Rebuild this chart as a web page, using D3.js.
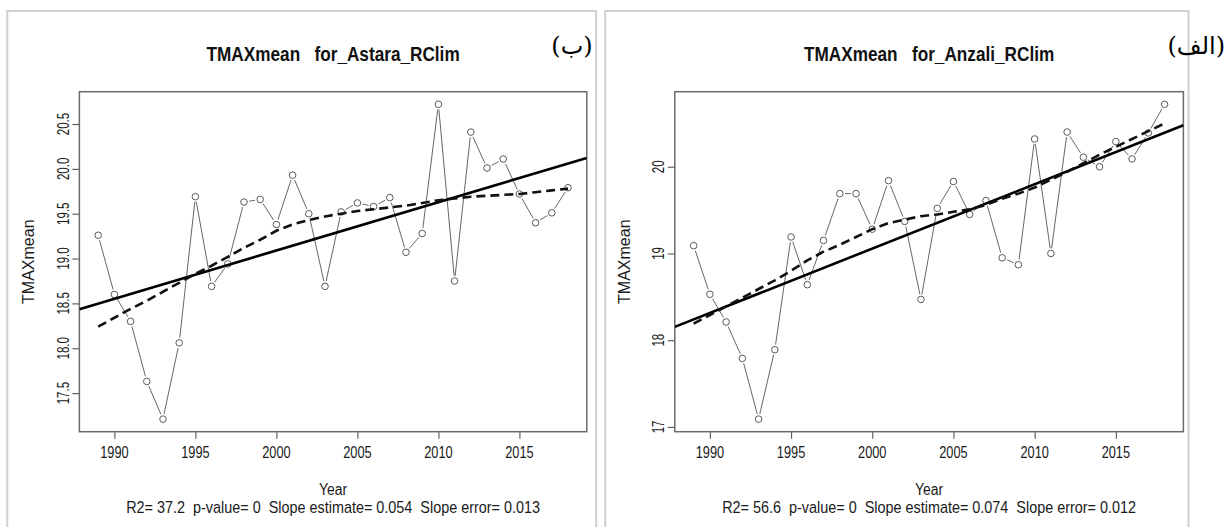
<!DOCTYPE html>
<html><head><meta charset="utf-8">
<script src="https://cdn.jsdelivr.net/npm/d3@7"></script>
<style>body{margin:0;background:#fff} svg{display:block}</style>
</head><body>
<svg id="chart" width="1226" height="527"></svg>
<script>
// ---------- data ----------
const years = [1989,1990,1991,1992,1993,1994,1995,1996,1997,1998,1999,2000,2001,2002,2003,2004,2005,2006,2007,2008,2009,2010,2011,2012,2013,2014,2015,2016,2017,2018];
const astaraTmax = [19.26,18.60,18.30,17.63,17.21,18.06,19.69,18.69,18.94,19.63,19.66,19.38,19.93,19.50,18.69,19.52,19.62,19.58,19.68,19.07,19.28,20.72,18.75,20.41,20.01,20.11,19.72,19.40,19.51,19.79];
const astaraLowess = [18.24,18.34,18.44,18.53,18.63,18.73,18.83,18.92,19.02,19.12,19.21,19.31,19.38,19.43,19.47,19.50,19.53,19.55,19.57,19.59,19.62,19.65,19.67,19.69,19.70,19.71,19.72,19.74,19.76,19.78];
const anzaliTmax = [19.09,18.53,18.21,17.79,17.09,17.89,19.19,18.64,19.15,19.69,19.69,19.28,19.84,19.37,18.47,19.52,19.83,19.45,19.61,18.95,18.87,20.32,19.00,20.40,20.11,20.00,20.29,20.09,20.39,20.72];
const anzaliLowess = [18.19,18.29,18.39,18.49,18.59,18.69,18.80,18.92,19.02,19.10,19.19,19.28,19.35,19.39,19.43,19.45,19.48,19.51,19.56,19.63,19.69,19.76,19.85,19.94,20.04,20.14,20.23,20.32,20.41,20.50];
const xTicks = [1990,1995,2000,2005,2010,2015];
const astaraYTicks = [17.5,18.0,18.5,19.0,19.5,20.0,20.5];
const anzaliYTicks = [17,18,19,20];
const titles = ["TMAXmean   for_Astara_RClim", "TMAXmean   for_Anzali_RClim"];
const statLines = ["R2= 37.2  p-value= 0  Slope estimate= 0.054  Slope error= 0.013",
                   "R2= 56.6  p-value= 0  Slope estimate= 0.074  Slope error= 0.012"];
const panelTags = ["(ب)", "(الف)"];
const xLabel = "Year";
const yLabel = "TMAXmean";

// ---------- layout ----------
const svg = d3.select("#chart");
const FONT = "'Liberation Sans', Arial, Helvetica, sans-serif";

const panels = [
  {values: astaraTmax, lowess: astaraLowess, yTicks: astaraYTicks, fmt: d3.format(".1f"),
   border: [7.3, 596.2], plot: {x0: 79.4, x1: 586.8, y0: 91.7, y1: 431.7},
   yLabX: 28.5, yTickX: 63.3, tagX: 572, tagAnchor: "middle",
   title: titles[0], stats: statLines[0], tag: panelTags[0]},
  {values: anzaliTmax, lowess: anzaliLowess, yTicks: anzaliYTicks, fmt: d3.format("d"),
   border: [605.2, 1188.5], plot: {x0: 674.8, x1: 1183.4, y0: 91.7, y1: 431.7},
   yLabX: 624, yTickX: 658.5, tagX: 1225, tagAnchor: "end",
   title: titles[1], stats: statLines[1], tag: panelTags[1]}
];

function hText(g, x, y, str, size, sx, opts = {}) {
  return g.append("text")
    .attr("transform", `translate(${x},${y}) scale(${sx},1)`)
    .attr("text-anchor", opts.anchor || "middle")
    .attr("font-family", opts.family || FONT)
    .attr("font-size", size)
    .attr("font-weight", opts.weight || "normal")
    .attr("fill", opts.fill || "#1a1a1a")
    .style("white-space", "pre")
    .text(str);
}
function vText(g, x, y, str, size, sx) {
  return g.append("text")
    .attr("transform", `translate(${x},${y}) rotate(-90) scale(${sx},1)`)
    .attr("text-anchor", "middle")
    .attr("dy", "0.36em")
    .attr("font-family", FONT)
    .attr("font-size", size)
    .attr("fill", "#1a1a1a")
    .style("white-space", "pre")
    .text(str);
}

panels.forEach((p, i) => {
  const g = svg.append("g");
  // panel frame
  g.append("rect")
    .attr("x", p.border[0]).attr("y", 11)
    .attr("width", p.border[1] - p.border[0]).attr("height", 600)
    .attr("fill", "none").attr("stroke", "#cfcfcf").attr("stroke-width", 2);

  // scales (R style: 4% padding)
  const xe = d3.extent(years), xr = xe[1] - xe[0];
  const x = d3.scaleLinear().domain([xe[0] - 0.04 * xr, xe[1] + 0.04 * xr]).range([p.plot.x0, p.plot.x1]);
  const ye = d3.extent(p.values), yr = ye[1] - ye[0];
  const y = d3.scaleLinear().domain([ye[0] - 0.04 * yr, ye[1] + 0.04 * yr]).range([p.plot.y1, p.plot.y0]);

  const clipId = "clip" + i;
  svg.append("clipPath").attr("id", clipId).append("rect")
    .attr("x", p.plot.x0).attr("y", p.plot.y0)
    .attr("width", p.plot.x1 - p.plot.x0).attr("height", p.plot.y1 - p.plot.y0);

  // axes ticks
  const xAxis = g.append("g").attr("transform", `translate(0,${p.plot.y1})`)
    .call(d3.axisBottom(x).tickValues(xTicks).tickSize(7).tickFormat(""));
  const yAxis = g.append("g").attr("transform", `translate(${p.plot.x0},0)`)
    .call(d3.axisLeft(y).tickValues(p.yTicks).tickSize(7).tickFormat(""));
  [xAxis, yAxis].forEach(a => {
    a.select(".domain").remove();
    a.selectAll("line").attr("stroke", "#555").attr("stroke-width", 1.1);
  });
  xTicks.forEach(t => hText(g, x(t), 457.5, String(t), 16, 0.8));
  p.yTicks.forEach(t => vText(g, p.yTickX, y(t), p.fmt(t), 16, 0.72));

  // plot box
  g.append("rect")
    .attr("x", p.plot.x0).attr("y", p.plot.y0)
    .attr("width", p.plot.x1 - p.plot.x0).attr("height", p.plot.y1 - p.plot.y0)
    .attr("fill", "none").attr("stroke", "#6a6a6a").attr("stroke-width", 1.5);

  // data: type "b" connecting segments with gaps
  const pts = years.map((yy, k) => [x(yy), y(p.values[k])]);
  const gap = 5.2;
  const segs = [];
  for (let k = 0; k < pts.length - 1; k++) {
    const [ax, ay] = pts[k], [bx, by] = pts[k + 1];
    const d = Math.hypot(bx - ax, by - ay);
    if (d > 2 * gap) {
      const ux = (bx - ax) / d, uy = (by - ay) / d;
      segs.push([ax + ux * gap, ay + uy * gap, bx - ux * gap, by - uy * gap]);
    }
  }
  g.append("g").selectAll("line").data(segs).join("line")
    .attr("x1", s => s[0]).attr("y1", s => s[1]).attr("x2", s => s[2]).attr("y2", s => s[3])
    .attr("stroke", "#666").attr("stroke-width", 1);
  g.append("g").selectAll("circle").data(pts).join("circle")
    .attr("cx", d => d[0]).attr("cy", d => d[1]).attr("r", 3.3)
    .attr("fill", "none").attr("stroke", "#5a5a5a").attr("stroke-width", 1);

  // linear trend (least squares on the data)
  const mx = d3.mean(years), my = d3.mean(p.values);
  const slope = d3.sum(years, (yy, k) => (yy - mx) * (p.values[k] - my)) / d3.sum(years, yy => (yy - mx) ** 2);
  const icpt = my - slope * mx;
  const dom = x.domain();
  g.append("line").attr("clip-path", `url(#${clipId})`)
    .attr("x1", x(dom[0])).attr("y1", y(icpt + slope * dom[0]))
    .attr("x2", x(dom[1])).attr("y2", y(icpt + slope * dom[1]))
    .attr("stroke", "#000").attr("stroke-width", 2.6);

  // lowess smooth (dashed)
  g.append("path").datum(years.map((yy, k) => [yy, p.lowess[k]]))
    .attr("d", d3.line().x(d => x(d[0])).y(d => y(d[1])))
    .attr("fill", "none").attr("stroke", "#111").attr("stroke-width", 2.6)
    .attr("stroke-dasharray", "9,5");

  // texts
  const cx = (p.plot.x0 + p.plot.x1) / 2;
  hText(g, cx, 61, p.title, 20, 0.86, {weight: "bold", fill: "#111"});
  hText(g, cx, 495, xLabel, 16, 0.87);
  hText(g, cx, 513, p.stats, 16, 0.9);
  vText(g, p.yLabX, (p.plot.y0 + p.plot.y1) / 2, yLabel, 16, 1.0);
  hText(g, p.tagX, 54, p.tag, 24, 1.0, {anchor: p.tagAnchor, family: "'DejaVu Serif','DejaVu Sans', serif", fill: "#000"});
});
</script>
</body></html>
